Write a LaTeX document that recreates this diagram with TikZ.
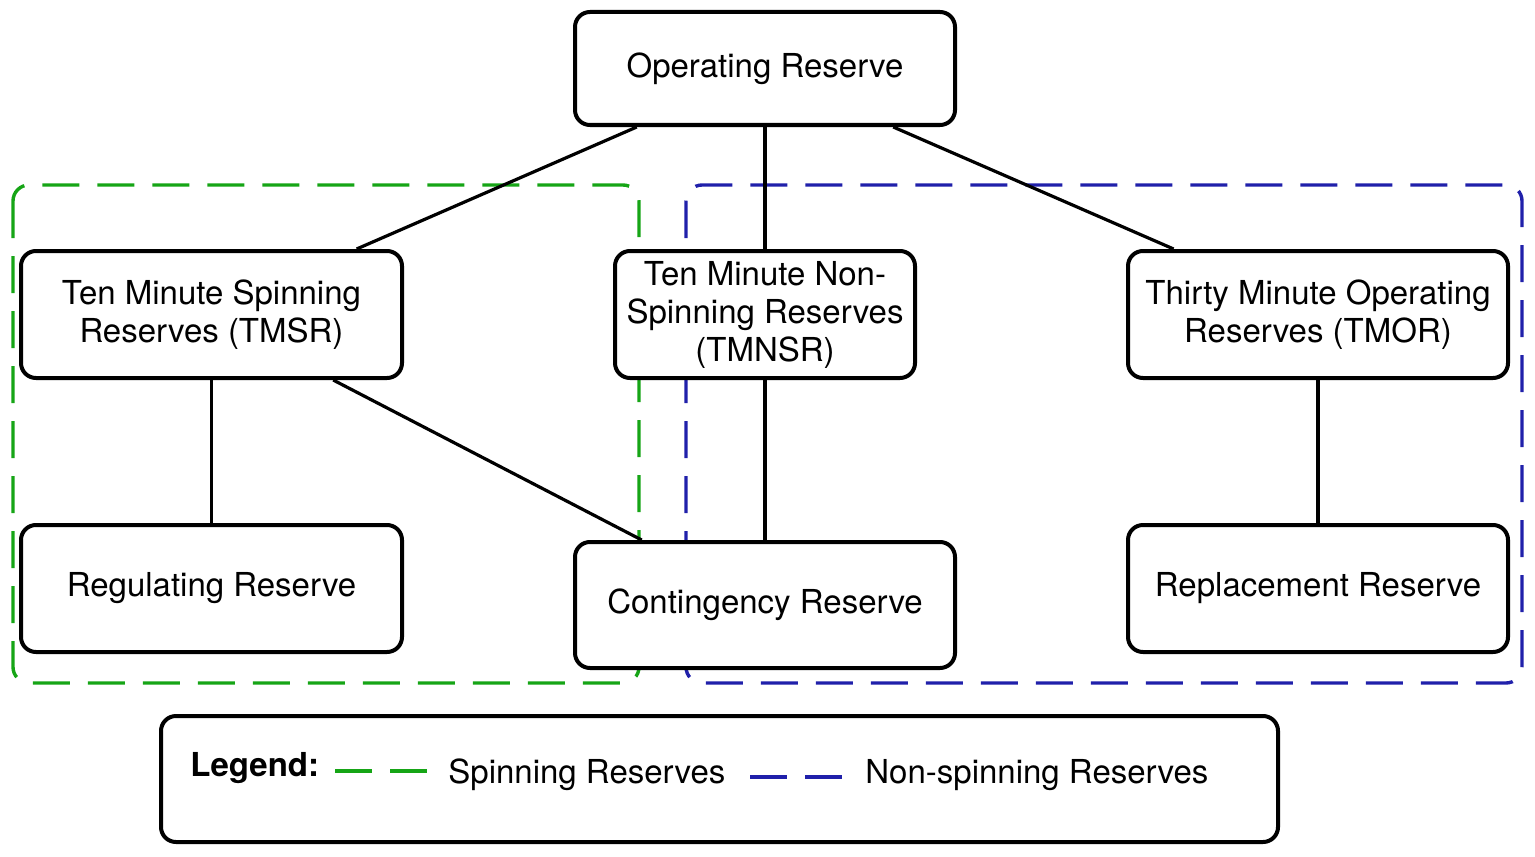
\documentclass[tikz,border=0pt]{standalone}
\usepackage{fontspec}
\setmainfont{TeX Gyre Heros}
\usetikzlibrary{calc}
\definecolor{spgreen}{RGB}{22,165,22}
\definecolor{nsblue}{RGB}{32,32,170}
\begin{document}
\begin{tikzpicture}[x=0.5pt,y=-0.5pt,
  box/.style={draw,line width=2pt,rounded corners=7.5pt,fill=white,align=center,inner sep=0pt,
    font=\fontsize{16.5}{19}\selectfont},
  link/.style={line width=1.6pt},
  grp/.style={line width=1.7pt,dash pattern=on 18.5pt off 9pt,rounded corners=8pt},
  legdash/.style={line width=1.8pt},
  legtext/.style={anchor=base west,inner sep=0pt,font=\fontsize{16.5}{19}\selectfont}]
\useasboundingbox (0,0) rectangle (1535,856);
% group frames
\draw[grp,spgreen] (13,185) rectangle (639,683);
\draw[grp,nsblue] (686,185) rectangle (1522,683);
% nodes
\node[box,minimum width=190pt,minimum height=56.5pt] (op) at (765,68.5) {Operating Reserve};
\node[box,minimum width=190.5pt,minimum height=63.5pt] (tmsr) at (211.5,314.5) {Ten Minute Spinning\\Reserves (TMSR)};
\node[box,minimum width=150pt,minimum height=63.5pt] (tmnsr) at (765,314.5) {Ten Minute Non-\\Spinning Reserves\\(TMNSR)};
\node[box,minimum width=190pt,minimum height=63.5pt] (tmor) at (1318,314.5) {Thirty Minute Operating\\Reserves (TMOR)};
\node[box,minimum width=190.5pt,minimum height=63.5pt] (reg) at (211.5,588.5) {Regulating Reserve};
\node[box,minimum width=190pt,minimum height=63pt] (cont) at (765,605) {Contingency Reserve};
\node[box,minimum width=190pt,minimum height=63.5pt] (repl) at (1318,588.5) {Replacement Reserve};
% connectors
\draw[link] ($(op.south west)!0.166!(op.south east)$) -- ($(tmsr.north west)!0.877!(tmsr.north east)$);
\draw[link] (op.south) -- (tmnsr.north);
\draw[link] ($(op.south west)!0.834!(op.south east)$) -- ($(tmor.north west)!0.124!(tmor.north east)$);
\draw[link] (tmsr.south) -- (reg.north);
\draw[link] ($(tmsr.south west)!0.816!(tmsr.south east)$) -- ($(cont.north west)!0.179!(cont.north east)$);
\draw[link] (tmnsr.south) -- (cont.north);
\draw[link] (tmor.south) -- (repl.north);
% legend
\node[box,minimum width=558.5pt,minimum height=63pt] (legend) at (719.5,779) {};
\node[anchor=base west,inner sep=0pt,font=\fontsize{16.5}{19}\selectfont\bfseries] (legl) at (190,776) {Legend:};
\draw[legdash,spgreen] (335,771) -- (372,771) (390,771) -- (427,771);
\node[legtext] (legsp) at (448,783) {Spinning Reserves};
\draw[legdash,nsblue] (750,777) -- (787,777) (805,777) -- (842,777);
\node[legtext] (legns) at (865,783) {Non-spinning Reserves};
\end{tikzpicture}
\end{document}
